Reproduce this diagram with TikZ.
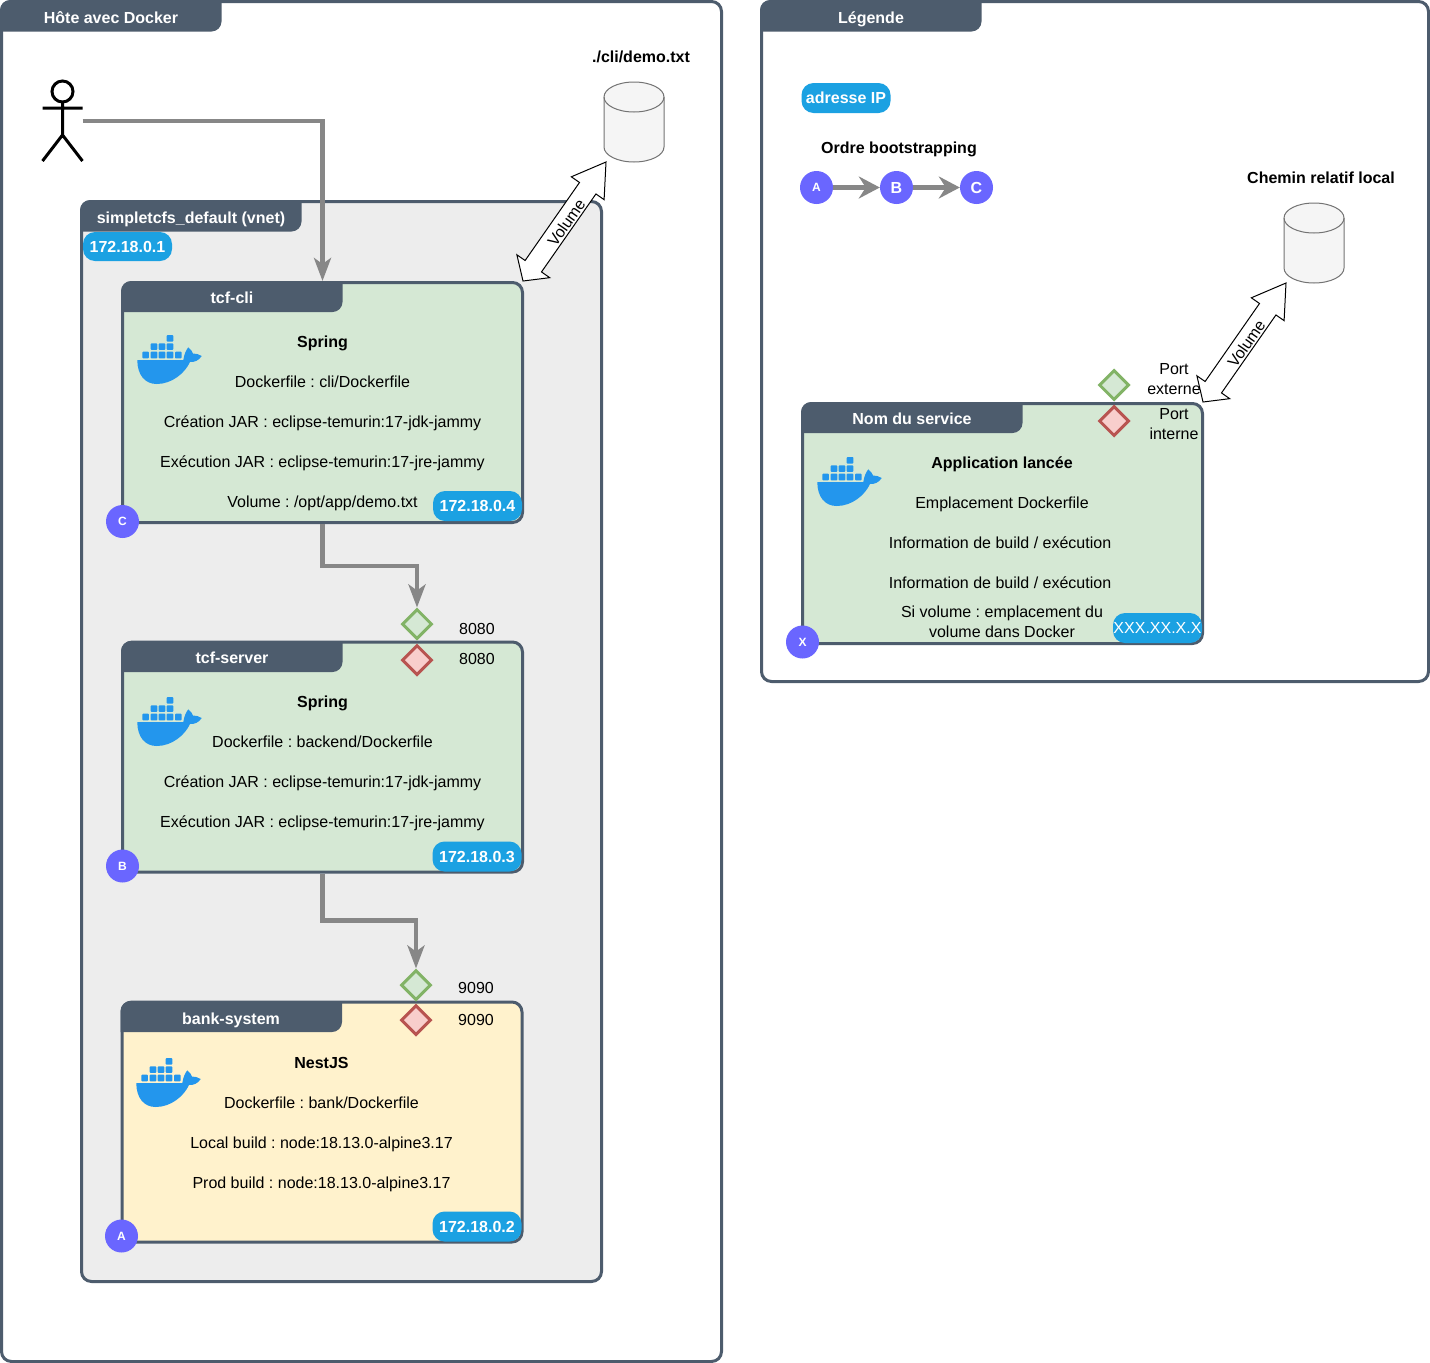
\documentclass[tikz,border=0pt]{standalone}
\usepackage{fontspec}
\setmainfont{Liberation Sans}
\usetikzlibrary{shapes.geometric, arrows.meta, positioning, calc}

\definecolor{slateline}{HTML}{4D5C6D}
\definecolor{netfill}{HTML}{EDEDED}
\definecolor{greenfill}{HTML}{D5E8D4}
\definecolor{greenline}{HTML}{82B366}
\definecolor{redfill}{HTML}{F8CECC}
\definecolor{redline}{HTML}{B85450}
\definecolor{yellowfill}{HTML}{FFF2CC}
\definecolor{ipblue}{HTML}{1BA1E2}
\definecolor{orderblue}{HTML}{6A66FF}
\definecolor{flowgrey}{HTML}{878787}
\definecolor{whaleblue}{HTML}{2396ED}

\tikzset{
	every node/.append style={font=\fontsize{16}{20}\selectfont, inner sep=0pt},
	panel/.style={draw=slateline, line width=3pt, rounded corners=10pt, minimum width=#1},
	txt/.style={text height=15.5pt, text depth=3.5pt},
	volname/.style={text height=19.5pt, text depth=3.5pt},
	bold/.style={txt, font=\fontsize{16}{20}\selectfont\bfseries},
	tabtxt/.style={bold, text=white},
	multi/.style={align=center},
	ipbadge/.style={fill=ipblue, rounded corners=12pt, minimum width=89pt, minimum height=30pt, text=white, font=\fontsize{16}{20}\selectfont\bfseries},
	order/.style={circle, fill=orderblue, minimum size=33pt, text=white, font=\fontsize{12}{14}\selectfont\bfseries},
	orderbig/.style={order, font=\fontsize{16}{20}\selectfont\bfseries},
	portout/.style={diamond, draw=greenline, fill=greenfill, line width=3pt, minimum width=30pt, minimum height=30pt},
	portin/.style={diamond, draw=redline, fill=redfill, line width=3pt, minimum width=30pt, minimum height=30pt},
	flow/.style={draw=flowgrey, line width=4.5pt, -{Stealth[length=23pt, width=17pt, inset=6pt]}},
	flowsmall/.style={draw=flowgrey, line width=4.5pt, -{Stealth[length=21pt, width=22pt, inset=7pt]}},
	store/.style={minimum width=60pt, minimum height=80pt},
	storeline/.style={draw=black!55, fill=black!4, line width=1pt},
	volbody/.style={draw=black, fill=white, line width=1pt},
	whale/.pic={
		\foreach \bx/\by in {29.7/0, 13.7/8.3, 21.7/8.3, 29.7/8.3, 5.3/16.7, 13.7/16.7, 21.7/16.7, 29.7/16.7, 38/16.7}
			\fill[whaleblue, rounded corners=0.8pt] (\bx,\by) rectangle ++(6.6,6.6);
		\fill[whaleblue] (0.3,25) -- (46.3,25) .. controls (47,20) and (49,15) .. (51.3,12.3)
			.. controls (54,15) and (56,17) .. (56,18.5) .. controls (59,18.3) and (62,19.5) .. (64.7,21)
			.. controls (62,25.5) and (57,27.5) .. (53,27) .. controls (48,38) and (35,49) .. (19.7,49)
			.. controls (8,49) and (0.3,40) .. (0.3,25) -- cycle;
	}
}

% tab on the top left of a panel: x, y, height
\newcommand{\tabhead}[3]{
	\fill[slateline] (#1,#2+#3) [rounded corners=10pt] -- (#1,#2) [sharp corners] -- (#1+221.5,#2) [rounded corners=10pt] -- (#1+221.5,#2+#3) [sharp corners] -- cycle;
}
% block arrow with two heads between two coordinates
\newcommand{\volarrow}[2]{
	\draw[volbody] (#1) -- ($(#1)!26.9pt!48:(#2)$) -- ($(#1)!20.6pt!29:(#2)$) -- ($(#2)!33.5pt!-17.4:(#1)$) -- ($(#2)!37.7pt!-32:(#1)$) -- (#2)
		-- ($(#2)!37.7pt!32:(#1)$) -- ($(#2)!33.5pt!17.4:(#1)$) -- ($(#1)!20.6pt!-29:(#2)$) -- ($(#1)!26.9pt!-48:(#2)$) -- cycle;
}
% cylinder around a centre: x, y
\newcommand{\storedraw}[2]{
	\draw[storeline] (#1-30,#2-25) -- (#1-30,#2+25) arc[start angle=180, end angle=360, x radius=30pt, y radius=15pt]
		-- (#1+30,#2-25) arc[start angle=0, end angle=180, x radius=30pt, y radius=15pt] -- cycle;
	\draw[storeline, fill=none] (#1-30,#2-25) arc[start angle=180, end angle=360, x radius=30pt, y radius=15pt];
}

\begin{document}
\frenchspacing
\begin{tikzpicture}[x=1pt, y=-1pt]
	\useasboundingbox (0,0) rectangle (1430,1363);

	% Outer panels
	\node[panel=720pt, minimum height=1360pt, fill=white] (host) at (361.5,681.5) {};
	\tabhead{0}{0}{31.5}
	\node[tabtxt] (hosttitle) at (111,17) {Hôte avec Docker};

	\node[panel=667pt, minimum height=680pt, fill=white] (legend) at (1095,341.5) {};
	\tabhead{760}{0}{31.5}
	\node[tabtxt] (legendtitle) at (871,17) {Légende};

	% Network
	\node[panel=520pt, minimum height=1080pt, fill=netfill] (vnet) at (341.5,741.5) {};
	\tabhead{80}{200}{31.5}
	\node[tabtxt] (vnettitle) at (191,217) {simpletcfs\_default (vnet)};
	\node[ipbadge, minimum height=29pt] (vnetip) at (127.5,246.5) {172.18.0.1};

	% User and volume file
	\node[minimum width=40pt, minimum height=80pt] (user) at (62.5,121) {};
	\draw[line width=3pt] (62.5,91.5) circle[radius=10.5pt];
	\draw[line width=3pt] (62.5,102) -- (62.5,135) (42.5,108) -- (82.5,108) (42.5,161) -- (62.5,135) -- (82.5,161);
	\node[store] (demofile) at (634,122) {};
	\storedraw{634}{122}
	\node[bold] (demoname) at (641,56) {./cli/demo.txt};

	% Service tcf-cli
	\node[panel=400pt, minimum height=240pt, fill=greenfill] (cli) at (322.5,402.5) {};
	\tabhead{121}{281}{31}
	\node[tabtxt] (clititle) at (232,297) {tcf-cli};
	\pic at (137,335) {whale};
	\node[bold] (cli1) at (322.5,341) {Spring};
	\node[txt] (cli2) at (322.5,381) {Dockerfile : cli/Dockerfile};
	\node[txt] (cli3) at (322.5,421) {Création JAR : eclipse-temurin:17-jdk-jammy};
	\node[txt] (cli4) at (322.5,461) {Exécution JAR : eclipse-temurin:17-jre-jammy};
	\node[txt] (cli5) at (322.5,501) {Volume : /opt/app/demo.txt};
	\node[ipbadge] (cliip) at (477.5,506) {172.18.0.4};
	\node[order] (clio) at (122.5,521.5) {C};

	% Service tcf-server
	\node[panel=400pt, minimum height=230pt, fill=greenfill] (server) at (322.5,757) {};
	\tabhead{121}{641}{31}
	\node[tabtxt] (servertitle) at (232,657) {tcf-server};
	\pic at (137,697) {whale};
	\node[bold] (server1) at (322.5,701) {Spring};
	\node[txt] (server2) at (322.5,741) {Dockerfile : backend/Dockerfile};
	\node[txt] (server3) at (322.5,781) {Création JAR : eclipse-temurin:17-jdk-jammy};
	\node[txt] (server4) at (322.5,821) {Exécution JAR : eclipse-temurin:17-jre-jammy};
	\node[ipbadge] (serverip) at (477,856.5) {172.18.0.3};
	\node[order] (servero) at (122.5,866) {B};
	\node[portout] (serverout) at (417,624) {};
	\node[portin] (serverin) at (417,660) {};
	\node[txt] (serveroutl) at (477,628) {8080};
	\node[txt] (serverinl) at (477,658) {8080};

	% Service bank-system
	\node[panel=400pt, minimum height=240pt, fill=yellowfill] (bank) at (322,1122) {};
	\tabhead{120.5}{1001}{31}
	\node[tabtxt] (banktitle) at (231,1018) {bank-system};
	\pic at (136,1058) {whale};
	\node[bold] (bank1) at (321.5,1062) {NestJS};
	\node[txt] (bank2) at (321.5,1102) {Dockerfile : bank/Dockerfile};
	\node[txt] (bank3) at (321.5,1142) {Local build : node:18.13.0-alpine3.17};
	\node[txt] (bank4) at (321.5,1182) {Prod build : node:18.13.0-alpine3.17};
	\node[ipbadge] (bankip) at (477,1226.5) {172.18.0.2};
	\node[order] (banko) at (121.5,1236) {A};
	\node[portout] (bankout) at (416,985) {};
	\node[portin] (bankin) at (416,1020) {};
	\node[txt] (bankoutl) at (476,987) {9090};
	\node[txt] (bankinl) at (476,1019) {9090};

	% Flows
	\draw[flow] (user.east) -| (cli.north);
	\draw[flow] (cli.south) -- ++(0,42) -| (serverout.north);
	\draw[flow] (server.south) -- ++(0,47) -| (bankout.north);

	% Volume arrow
	\coordinate (vola) at (523,281);
	\coordinate (volb) at (606,162);
	\volarrow{vola}{volb}
	\path (vola) -- (volb) node[midway, sloped, volname] (voltext) {Volume};

	% Legend
	\node[ipbadge] (legendip) at (846,98) {adresse IP};
	\node[bold] (ordertitle) at (899,147) {Ordre bootstrapping};
	\node[order] (ordera) at (816.5,187.5) {A};
	\node[orderbig] (orderb) at (896.5,187.5) {B};
	\node[orderbig] (orderc) at (976.5,187.5) {C};
	\draw[flowsmall] (ordera) -- (orderb);
	\draw[flowsmall] (orderb) -- (orderc);
	\node[bold] (pathtitle) at (1321,177) {Chemin relatif local};
	\node[store] (legendfile) at (1314,243) {};
	\storedraw{1314}{243}

	% Legend service
	\node[panel=400pt, minimum height=240pt, fill=greenfill] (sample) at (1002.5,523.5) {};
	\tabhead{801}{402}{31}
	\node[tabtxt] (sampletitle) at (912,418) {Nom du service};
	\pic at (817,457) {whale};
	\node[bold] (sample1) at (1002,462) {Application lancée};
	\node[txt] (sample2) at (1002,502) {Emplacement Dockerfile};
	\node[txt] (sample3) at (1000,542) {Information de build / exécution};
	\node[txt] (sample4) at (1000,582) {Information de build / exécution};
	\node[multi] (sample5) at (1002,622) {Si volume : emplacement du\\volume dans Docker};
	\node[ipbadge, font=\fontsize{16}{20}\selectfont] (sampleip) at (1157.5,628) {XXX.XX.X.X};
	\node[order] (sampleo) at (802.5,642) {X};
	\node[portout] (sampleout) at (1114,385) {};
	\node[portin] (samplein) at (1114,421) {};
	\coordinate (volc) at (1203,402);
	\coordinate (vold) at (1286,283);
	\volarrow{volc}{vold}
	\path (volc) -- (vold) node[midway, sloped, volname] (volctext) {Volume};
	\node[multi] (sampleoutl) at (1174,379) {Port\\externe};
	\node[multi] (sampleinl) at (1174,424) {Port\\interne};
\end{tikzpicture}
\end{document}
